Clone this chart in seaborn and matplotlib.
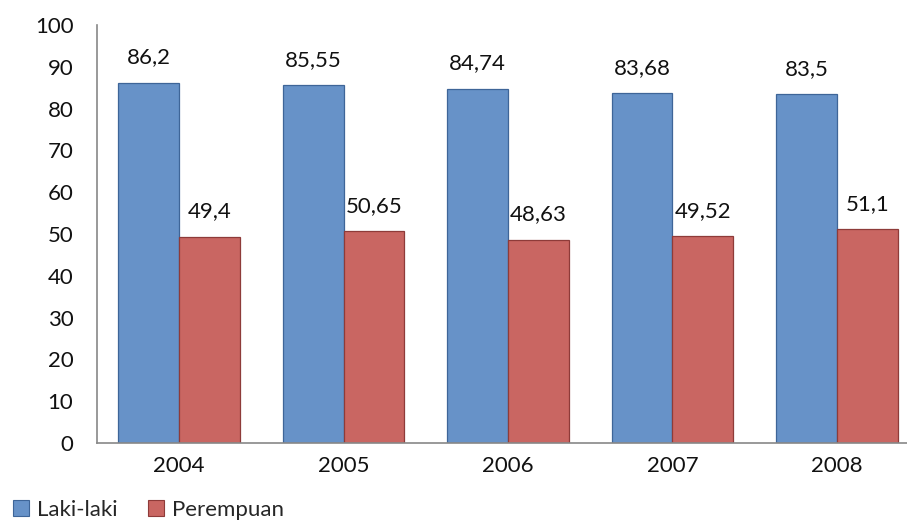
import matplotlib
matplotlib.use("Agg")
import matplotlib.pyplot as plt
import seaborn as sns
import pandas as pd
from matplotlib.patches import Patch

years = ["2004", "2005", "2006", "2007", "2008"]
laki = [86.2, 85.55, 84.74, 83.68, 83.5]
perempuan = [49.4, 50.65, 48.63, 49.52, 51.1]
series = ["Laki-laki", "Perempuan"]
yticks = [0, 10, 20, 30, 40, 50, 60, 70, 80, 90, 100]

df = pd.DataFrame({
    "Tahun": years * 2,
    "Nilai": laki + perempuan,
    "Jenis": [series[0]] * len(years) + [series[1]] * len(years),
})

sns.set_theme(style="white")
plt.rcParams["font.family"] = ["Lato", "DejaVu Sans"]

face = {"Laki-laki": "#6792C8", "Perempuan": "#C96662"}
edge = {"Laki-laki": "#3E6598", "Perempuan": "#8E3B39"}
fs = 16

fig = plt.figure(figsize=(9.07, 5.2), dpi=100)
ax = fig.add_axes([97 / 907, 77 / 520, 822 / 907, 418 / 520])

sns.barplot(data=df, x="Tahun", y="Nilai", hue="Jenis", palette=face,
            width=0.74, gap=0, ax=ax, legend=False, saturation=1)

for cont, name in zip(ax.containers, series):
    for p in cont:
        p.set_edgecolor(edge[name])
        p.set_linewidth(0.9)
    vals = laki if name == series[0] else perempuan
    ax.bar_label(cont, labels=[f"{v:g}".replace(".", ",") for v in vals],
                 padding=11, fontsize=fs, color="#111111")

ax.set_ylim(0, 100)
ax.set_xlim(-0.5, 4.5)
ax.set_yticks(yticks)
ax.set_yticklabels([str(t) for t in yticks])
ax.tick_params(axis="y", length=0, pad=17, labelsize=fs, labelcolor="#111111")
ax.tick_params(axis="x", length=0, pad=9, labelsize=fs, labelcolor="#111111")
ax.set_xlabel("")
ax.set_ylabel("")
for s in ["top", "right"]:
    ax.spines[s].set_visible(False)
for s in ["left", "bottom"]:
    ax.spines[s].set_color("#888888")
    ax.spines[s].set_linewidth(1.2)

handles = [Patch(facecolor=face[n], edgecolor=edge[n], linewidth=0.8, label=n) for n in series]
fig.legend(handles=handles, loc="lower left", bbox_to_anchor=(0.0, -0.025), ncol=2,
           frameon=False, fontsize=fs, handlelength=0.7, handleheight=0.7,
           handletextpad=0.35, columnspacing=1.4, borderaxespad=0.2)

fig.savefig("out.png", dpi=100)
